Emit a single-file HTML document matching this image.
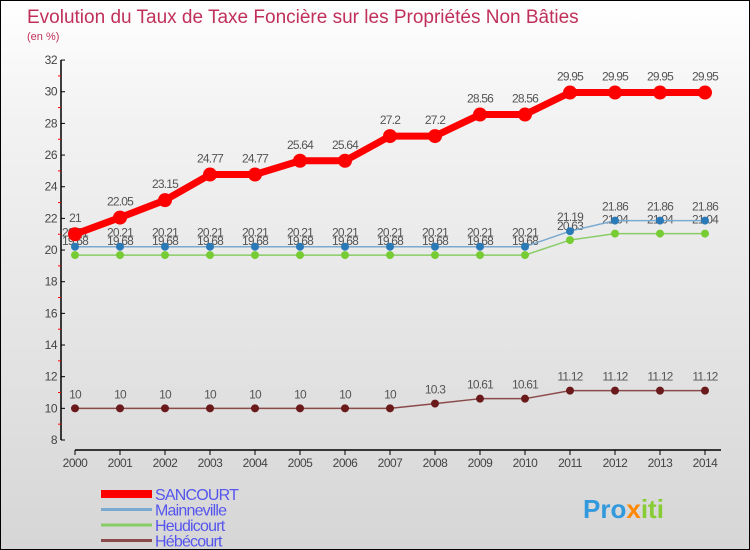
<!DOCTYPE html>
<html><head><meta charset="utf-8"><style>
body{margin:0}
#c{width:748px;height:548px;border:1px solid #000;background:linear-gradient(#fff,#f3f3f3 20%,#d6d6d6);position:relative;font-family:"Liberation Sans",sans-serif;overflow:hidden}
</style></head><body>
<div id="c">
<svg id="s" width="748" height="548" xmlns="http://www.w3.org/2000/svg"></svg>
</div>
<script>
const years=[2000,2001,2002,2003,2004,2005,2006,2007,2008,2009,2010,2011,2012,2013,2014];
const sancourt=[21,22.05,23.15,24.77,24.77,25.64,25.64,27.2,27.2,28.56,28.56,29.95,29.95,29.95,29.95];
const mainneville=[20.21,20.21,20.21,20.21,20.21,20.21,20.21,20.21,20.21,20.21,20.21,21.19,21.86,21.86,21.86];
const heudicourt=[19.68,19.68,19.68,19.68,19.68,19.68,19.68,19.68,19.68,19.68,19.68,20.63,21.04,21.04,21.04];
const hebecourt=[10,10,10,10,10,10,10,10,10.3,10.61,10.61,11.12,11.12,11.12,11.12];
const yTicks=[8,10,12,14,16,18,20,22,24,26,28,30,32];
const NS="http://www.w3.org/2000/svg",s=document.getElementById('s');
function X(i){return 74+i*45;}
function Y(v){return 439-(v-8)*15.83;}
function el(t,a,txt){const e=document.createElementNS(NS,t);for(const k in a)e.setAttribute(k,a[k]);if(txt!==undefined)e.textContent=txt;s.appendChild(e);return e;}
let t=el('text',{x:26,y:22,'font-size':19,fill:'#c0305a'},'Evolution du Taux de Taxe Foncière sur les Propriétés Non Bâties');


t=el('text',{x:26,y:39,'font-size':11,fill:'#c0305a'},'(en %)');


let a=el('line',{x1:60,y1:59,x2:60,y2:439,stroke:'#000','stroke-width':1.5});


a=el('line',{x1:74,y1:449,x2:720,y2:449,stroke:'#000','stroke-width':1.5});


yTicks.forEach(v=>{
 el('line',{x1:60,y1:Y(v),x2:64,y2:Y(v),stroke:'#000'});
 if(v<32)el('line',{x1:57,y1:Y(v+1),x2:60,y2:Y(v+1),stroke:'#f00'});
 const e=el('text',{x:56,y:Y(v)+4,'font-size':12,fill:'#444','text-anchor':'end','letter-spacing':'-0.5'},v);
 
 
});
years.forEach((y,i)=>{
 el('line',{x1:X(i),y1:449,x2:X(i),y2:454,stroke:'#000'});
 const e=el('text',{x:X(i),y:466,'font-size':12,fill:'#444','text-anchor':'middle','letter-spacing':'-0.5'},y);
 
 
});
function series(name,vals,color,w,r,dot,lblDy){
 const p=el('polyline',{points:vals.map((v,i)=>X(i)+','+Y(v)).join(' '),fill:'none',stroke:color,'stroke-width':w,'stroke-linejoin':'round'});
 
 
 vals.forEach((v,i)=>{
  const c=el('circle',{cx:X(i),cy:Y(v),r:r,fill:dot});
  
  
  const l=el('text',{x:X(i),y:Y(v)+lblDy,'font-size':12,fill:'#555','text-anchor':'middle','letter-spacing':'-0.8'},String(v));
  
  
 });
}
series('hebecourt',hebecourt,'#8b4a4a',1.5,4,'#6a1a1a',-10);
series('heudicourt',heudicourt,'#88cc66',1.5,4,'#77cc33',-10);
series('mainneville',mainneville,'#7aaad0',1.5,4,'#2a7ab8',-10);
series('sancourt',sancourt,'#ff0000',7,7,'#ff0000',-12);
const leg=[['SANCOURT','#ff0000',8],['Mainneville','#7aaad0',3],['Heudicourt','#88cc66',3],['Hébécourt','#8b4a4a',3]];
leg.forEach((l,i)=>{
 const y=493+i*15.5;
 const ln=el('line',{x1:100,y1:y,x2:151,y2:y,stroke:l[1],'stroke-width':l[2]});
 
 
 const tx=el('text',{x:154,y:y+6,'font-size':16,fill:'#5555ee','letter-spacing':'-0.8'},l[0]);
 
 
});
const lg=el('text',{x:582,y:517,'font-size':26,'font-weight':'bold',fill:'#3399dd'});


lg.innerHTML='Pro<tspan fill="#ff8800">x</tspan><tspan fill="#88cc33">iti</tspan>';
</script>
</body></html>
